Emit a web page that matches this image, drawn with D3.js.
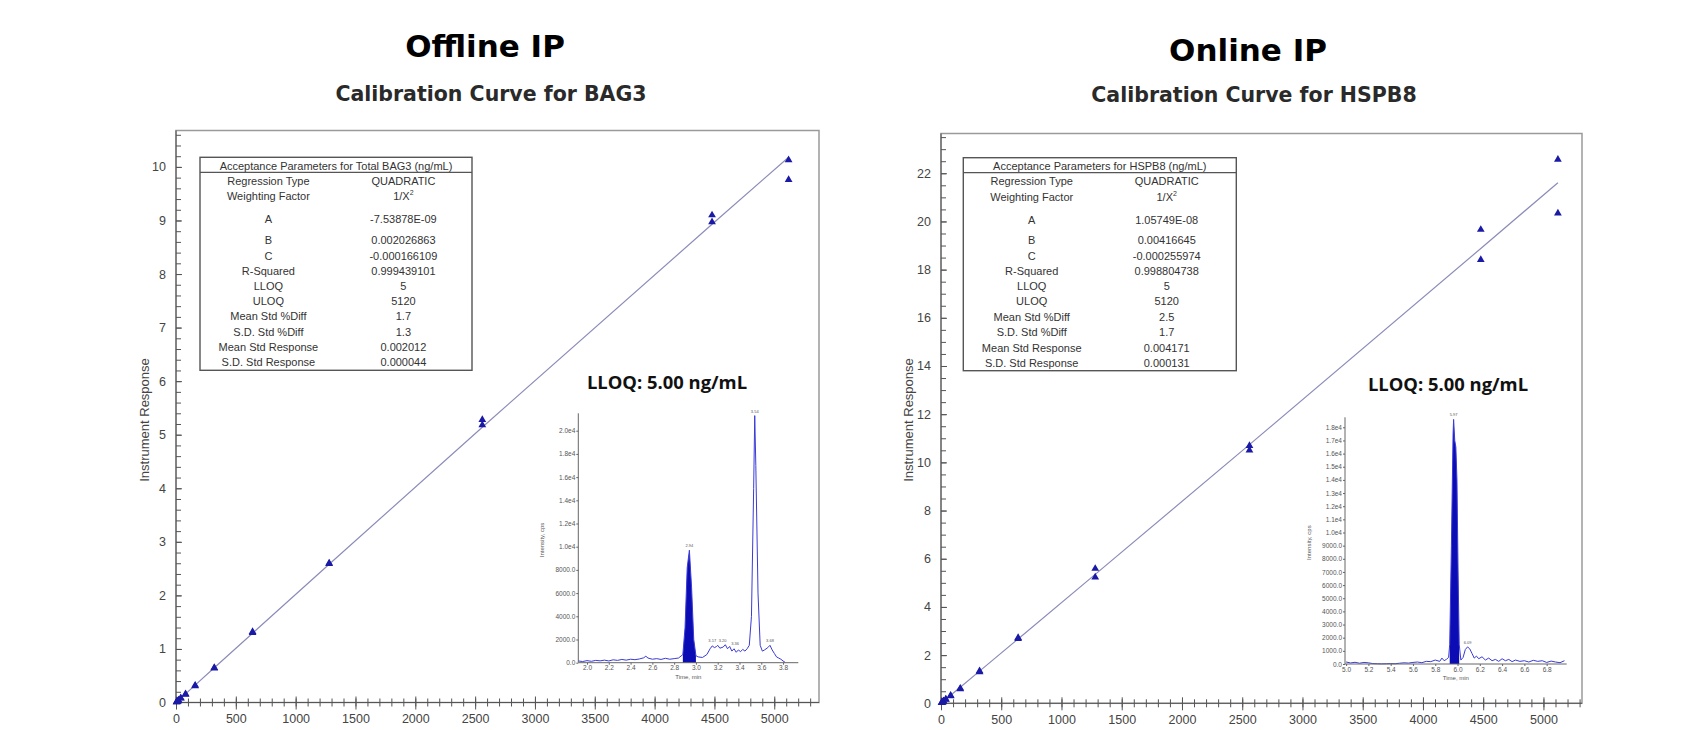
<!DOCTYPE html>
<html>
<head>
<meta charset="utf-8">
<script src="https://cdn.jsdelivr.net/npm/d3@7"></script>
<style>
  body { margin: 0; background: #fff; }
  svg { display: block; font-family: "Liberation Sans", Arial, sans-serif; }
</style>
</head>
<body>
<svg id="chart" width="1690" height="730"></svg>
<script>
// ---- data ----
const concLevels = [5, 10, 20, 40, 80, 160, 320, 640, 1280, 2560, 4480, 5120];

const bag3RespA = [0.010, 0.020, 0.040, 0.080, 0.15, 0.31, 0.64, 1.32, 2.59, 5.28, 9.10, 10.13];
const bag3RespB = [0.011, 0.021, 0.041, 0.082, 0.16, 0.32, 0.65, 1.30, 2.60, 5.18, 8.97, 9.76];

const hspb8RespA = [0.021, 0.042, 0.085, 0.17, 0.30, 0.59, 1.30, 2.68, 5.59, 10.69, 19.66, 22.57];
const hspb8RespB = [0.020, 0.041, 0.083, 0.16, 0.32, 0.62, 1.34, 2.72, 5.23, 10.50, 18.41, 20.34];

// quadratic fit y = A x^2 + B x + C, as printed in the tables
const bag3Fit = [-7.53878e-9, 0.002026863, -0.000166109];
const hspb8Fit = [1.05749e-8, 0.00416645, -0.000255974];

const paramLabels = ["Regression Type", "Weighting Factor", "A", "B", "C", "R-Squared", "LLOQ", "ULOQ",
  "Mean Std %Diff", "S.D. Std %Diff", "Mean Std Response", "S.D. Std Response"];
const bag3Params = ["QUADRATIC", "1/X2", "-7.53878E-09", "0.002026863", "-0.000166109", "0.999439101", "5", "5120",
  "1.7", "1.3", "0.002012", "0.000044"];
const hspb8Params = ["QUADRATIC", "1/X2", "1.05749E-08", "0.00416645", "-0.000255974", "0.998804738", "5", "5120",
  "2.5", "1.7", "0.004171", "0.000131"];

const calXTicks = d3.range(0, 5001, 500);
const calXMinor = d3.range(0, 5301, 100);
const bag3YTicks = d3.range(0, 11, 1);
const bag3YMinor = d3.range(0, 10.61, 0.2);
const hspb8YTicks = d3.range(0, 23, 2);
const hspb8YMinor = d3.range(0, 23.6, 0.5);

// chromatogram at LLOQ, BAG3 (time min, intensity cps)
const bag3ChromTime = [1.92, 1.96, 2.00, 2.04, 2.08, 2.12, 2.16, 2.20, 2.24, 2.28, 2.32, 2.36, 2.40, 2.44, 2.48,
  2.52, 2.54, 2.56, 2.60, 2.64, 2.68, 2.72, 2.76, 2.80, 2.84, 2.88, 2.90, 2.92, 2.94, 2.96, 2.98, 3.00, 3.02,
  3.06, 3.10, 3.13, 3.15, 3.17, 3.19, 3.20, 3.22, 3.25, 3.27, 3.29, 3.31, 3.33, 3.35, 3.37, 3.39, 3.41, 3.43,
  3.45, 3.47, 3.49, 3.51, 3.53, 3.54, 3.55, 3.57, 3.59, 3.61, 3.63, 3.66, 3.68, 3.70, 3.72, 3.74, 3.76, 3.78,
  3.80, 3.82];
const bag3ChromInt = [150, 100, 180, 120, 200, 160, 220, 150, 250, 200, 280, 220, 300, 260, 320,
  420, 560, 400, 300, 350, 280, 380, 300, 350, 400, 700, 3000, 8200, 9700, 6500, 2000, 600, 500,
  450, 700, 1200, 1450, 1300, 1400, 1500, 1250, 1350, 1550, 1200, 1400, 1000, 1200, 900, 1100, 950, 1150,
  1000, 1200, 1500, 4000, 15000, 21300, 17000, 6000, 1500, 1000, 1100, 1300, 1500, 1100, 800, 500, 400, 300,
  150, 20];
const bag3PeakLabels = ["2.94", "3.17", "3.20", "3.36", "3.54", "3.68"];
const bag3PeakTimes = [2.94, 3.15, 3.245, 3.36, 3.54, 3.68];
const bag3PeakInts = [9700, 1500, 1550, 1300, 21300, 1500];
const bag3YTicksInset = d3.range(0, 20001, 2000);
const bag3XTicksInset = [2.0, 2.2, 2.4, 2.6, 2.8, 3.0, 3.2, 3.4, 3.6, 3.8];

// chromatogram at LLOQ, HSPB8
const hspb8ChromTime = [5.00, 5.04, 5.08, 5.12, 5.16, 5.20, 5.24, 5.28, 5.32, 5.36, 5.40, 5.44, 5.48, 5.52,
  5.56, 5.60, 5.64, 5.68, 5.72, 5.76, 5.80, 5.84, 5.86, 5.88, 5.90, 5.92, 5.93, 5.945, 5.96, 5.965, 5.975,
  5.985, 5.995, 6.005, 6.015, 6.03, 6.05, 6.07, 6.09, 6.11, 6.13, 6.15, 6.17, 6.19, 6.22, 6.25, 6.28, 6.31,
  6.34, 6.37, 6.40, 6.43, 6.46, 6.49, 6.52, 6.56, 6.60, 6.64, 6.68, 6.72, 6.76, 6.80, 6.84, 6.88, 6.92, 6.96];
const hspb8ChromInt = [150, 80, 130, 60, 120, 90, 30, 20, 10, 20, 30, 20, 60, 90,
  70, 120, 150, 100, 200, 180, 300, 200, 450, 250, 350, 500, 1500, 9000, 17500, 18600, 17000,
  16500, 14000, 7000, 1500, 300, 500, 1100, 1300, 1150, 800, 450, 600, 400, 550, 300, 450, 250,
  350, 200, 400, 250, 350, 180, 300, 200, 250, 150, 280, 200, 250, 120, 220, 150, 100, 250];
const hspb8PeakLabels = ["5.97", "6.09"];
const hspb8PeakTimes = [5.965, 6.09];
const hspb8PeakInts = [18600, 1300];
const hspb8YTicksInset = d3.range(0, 18001, 1000);
const hspb8XTicksInset = [5.0, 5.2, 5.4, 5.6, 5.8, 6.0, 6.2, 6.4, 6.6, 6.8];

// ---- drawing ----
const svg = d3.select("#chart");
const rowOffsets = [23.7, 39, 62, 82.3, 98.3, 113.7, 128.3, 143.7, 159, 174.3, 190, 205];

function fitValue(c, x) { return c[0] * x * x + c[1] * x + c[2]; }

function drawCalibration(p) {
  const x = d3.scaleLinear().domain([0, p.xMax]).range([p.left, p.right]);
  const y = d3.scaleLinear().domain([0, p.yMax]).range([p.bottom, p.top]);
  const g = svg.append("g");

  // frame
  g.append("rect")
    .attr("x", p.left).attr("y", p.top)
    .attr("width", p.right - p.left).attr("height", p.bottom - p.top)
    .attr("fill", "none").attr("stroke", "#9a9a9a").attr("stroke-width", 1.5);

  // minor ticks
  const xMinor = g.append("g").attr("transform", "translate(0," + p.bottom + ")")
    .call(d3.axisBottom(x).tickValues(calXMinor).tickFormat("").tickSize(4));
  xMinor.selectAll("line").attr("y1", -4);
  const yMinor = g.append("g").attr("transform", "translate(" + p.left + ",0)")
    .call(d3.axisRight(y).tickValues(p.yMinor).tickFormat("").tickSize(5));
  [xMinor, yMinor].forEach(a => { a.select(".domain").remove(); a.selectAll("line").attr("stroke", "#555"); });

  // major ticks
  const xAx = g.append("g").attr("transform", "translate(0," + p.bottom + ")")
    .call(d3.axisBottom(x).tickValues(calXTicks).tickFormat(d3.format("d"))
      .tickSize(7).tickSizeOuter(0).tickPadding(5));
  xAx.selectAll(".tick line").attr("y1", -6);
  xAx.select(".domain").attr("d", "M" + p.left + ",0H" + p.right);
  const yAx = g.append("g").attr("transform", "translate(" + p.left + ",0)")
    .call(d3.axisLeft(y).tickValues(p.yTicks).tickSize(7).tickSizeOuter(0).tickPadding(3));
  yAx.selectAll(".tick line").attr("x2", 6);
  yAx.select(".domain").attr("d", "M0," + p.bottom + "V" + p.top);
  [xAx, yAx].forEach(a => {
    a.selectAll("line, path").attr("stroke", "#555");
    a.selectAll("text").attr("fill", "#444").attr("font-size", 12.5);
  });

  g.append("text")
    .attr("transform", "translate(" + p.yLabelX + ",420) rotate(-90)")
    .attr("text-anchor", "middle").attr("dominant-baseline", "central")
    .attr("font-size", 13).attr("fill", "#444").text("Instrument Response");

  // regression line
  const linePts = [0].concat(concLevels);
  g.append("path")
    .datum(linePts)
    .attr("fill", "none").attr("stroke", "#8c8cba").attr("stroke-width", 1.2)
    .attr("d", d3.line().x(d => x(d)).y(d => y(fitValue(p.fit, d))));

  // replicate markers
  const pts = concLevels.map((c, i) => ({ c, v: p.respA[i] }))
    .concat(concLevels.map((c, i) => ({ c, v: p.respB[i] })));
  g.append("g").selectAll("path").data(pts).enter().append("path")
    .attr("transform", d => "translate(" + x(d.c) + "," + y(d.v) + ")")
    .attr("d", d3.symbol().type(d3.symbolTriangle).size(26))
    .attr("fill", "#1a1aa6");

  // parameter table
  const t = g.append("g").attr("transform", "translate(" + p.tabX + "," + p.tabY + ")");
  t.append("rect").attr("width", p.tabW).attr("height", 213)
    .attr("fill", "#fff").attr("stroke", "#555").attr("stroke-width", 1.4);
  t.append("line").attr("x1", 0).attr("x2", p.tabW).attr("y1", 15).attr("y2", 15)
    .attr("stroke", "#555").attr("stroke-width", 1.2);
  t.append("text").attr("x", p.tabW / 2).attr("y", 8.3)
    .attr("text-anchor", "middle").attr("dominant-baseline", "central")
    .attr("font-size", 11).attr("fill", "#333").text(p.tabTitle);
  paramLabels.forEach((lab, i) => {
    t.append("text").attr("x", 68.4).attr("y", rowOffsets[i])
      .attr("text-anchor", "middle").attr("dominant-baseline", "central")
      .attr("font-size", 11).attr("fill", "#333").text(lab);
    const v = t.append("text").attr("x", 203.4).attr("y", rowOffsets[i])
      .attr("text-anchor", "middle").attr("dominant-baseline", "central")
      .attr("font-size", 11).attr("fill", "#333");
    if (p.params[i] === "1/X2") {
      v.append("tspan").text("1/X");
      v.append("tspan").attr("font-size", 7).attr("dy", -4).text("2");
    } else {
      v.text(p.params[i]);
    }
  });

  // titles
  svg.append("text").attr("x", p.titleX).attr("y", p.titleY)
    .attr("text-anchor", "middle").attr("font-family", "'DejaVu Sans', sans-serif")
    .attr("font-weight", 700).attr("font-size", 31).attr("fill", "#000").text(p.title);
  svg.append("text").attr("x", p.subX).attr("y", p.subY)
    .attr("text-anchor", "middle").attr("font-family", "'DejaVu Sans', sans-serif").attr("font-weight", 700)
    .attr("font-size", 20.5).attr("fill", "#2a2a2a").text(p.subtitle);
  svg.append("text").attr("x", p.lloqX).attr("y", p.lloqY)
    .attr("text-anchor", "middle").attr("font-family", "'Open Sans', sans-serif")
    .attr("font-weight", 700).attr("font-size", 18.4).attr("fill", "#111").text("LLOQ: 5.00 ng/mL");
}

function insetFormat(v) {
  return v >= 10000 ? (v / 10000).toFixed(1) + "e4" : v.toFixed(1);
}

function drawInset(c) {
  const x = d3.scaleLinear().domain(c.xDom).range([c.left, c.right]);
  const y = d3.scaleLinear().domain([0, c.yTop]).range([c.bottom, c.top]);
  const g = svg.append("g");
  const data = c.time.map((tm, i) => ({ t: tm, v: c.inten[i] }));

  const peak = data.filter(d => d.t >= c.fill[0] && d.t <= c.fill[1]);
  g.append("path").datum(peak)
    .attr("fill", "#0c0cb4")
    .attr("d", d3.area().x(d => x(d.t)).y0(y(0)).y1(d => y(d.v)));
  g.append("path").datum(data)
    .attr("fill", "none").attr("stroke", "#3b3bd6").attr("stroke-width", 1)
    .attr("d", d3.line().x(d => x(d.t)).y(d => y(d.v)));

  const yAx = g.append("g").attr("transform", "translate(" + c.left + ",0)")
    .call(d3.axisLeft(y).tickValues(c.yTicks).tickFormat(insetFormat).tickSize(2).tickSizeOuter(0).tickPadding(1));
  yAx.select(".domain").attr("d", "M0," + c.bottom + "V" + c.top);
  const xAx = g.append("g").attr("transform", "translate(0," + c.bottom + ")")
    .call(d3.axisBottom(x).tickValues(c.xTicks).tickFormat(d3.format(".1f")).tickSize(2).tickSizeOuter(0).tickPadding(1));
  xAx.select(".domain").attr("d", "M" + c.left + ",0H" + c.right);
  [xAx, yAx].forEach(a => {
    a.selectAll("line, path").attr("stroke", "#666");
    a.selectAll("text").attr("fill", "#555").attr("font-size", 6.5);
  });

  g.selectAll(".plab").data(c.peakL).enter().append("text")
    .attr("x", (d, i) => x(c.peakT[i])).attr("y", (d, i) => y(c.peakV[i]) - 3)
    .attr("text-anchor", "middle").attr("font-size", 4).attr("fill", "#555")
    .text(d => d);

  g.append("text")
    .attr("transform", "translate(" + c.yTitleX + "," + ((c.top + c.bottom) / 2 + 2) + ") rotate(-90)")
    .attr("text-anchor", "middle").attr("dominant-baseline", "central")
    .attr("font-size", 6).attr("fill", "#555").text("Intensity, cps");
  g.append("text").attr("x", (c.left + c.right) / 2).attr("y", c.bottom + 16)
    .attr("text-anchor", "middle").attr("font-size", 6).attr("fill", "#555").text("Time, min");
}

drawCalibration({
  left: 176, right: 819, top: 130.5, bottom: 702.5, xMax: 5374, yMax: 10.68,
  yTicks: bag3YTicks, yMinor: bag3YMinor, yLabelX: 144,
  fit: bag3Fit, respA: bag3RespA, respB: bag3RespB,
  tabX: 200, tabY: 157.3, tabW: 272, tabTitle: "Acceptance Parameters for Total BAG3 (ng/mL)", params: bag3Params,
  title: "Offline IP", titleX: 485, titleY: 57, subtitle: "Calibration Curve for BAG3", subX: 491, subY: 101,
  lloqX: 667, lloqY: 389
});
drawCalibration({
  left: 941, right: 1582, top: 133.5, bottom: 703.3, xMax: 5320, yMax: 23.65,
  yTicks: hspb8YTicks, yMinor: hspb8YMinor, yLabelX: 908,
  fit: hspb8Fit, respA: hspb8RespA, respB: hspb8RespB,
  tabX: 963.3, tabY: 157.7, tabW: 273, tabTitle: "Acceptance Parameters for HSPB8 (ng/mL)", params: hspb8Params,
  title: "Online IP", titleX: 1248, titleY: 61, subtitle: "Calibration Curve for HSPB8", subX: 1254, subY: 102,
  lloqX: 1448, lloqY: 391
});

drawInset({
  left: 578.3, right: 798.3, top: 413.3, bottom: 662.7, xDom: [1.92, 3.94], yTop: 21500,
  time: bag3ChromTime, inten: bag3ChromInt, fill: [2.88, 3.00],
  yTicks: bag3YTicksInset, xTicks: bag3XTicksInset,
  peakL: bag3PeakLabels, peakT: bag3PeakTimes, peakV: bag3PeakInts, yTitleX: 541.7
});
drawInset({
  left: 1345, right: 1566.7, top: 417.3, bottom: 664, xDom: [4.99, 6.98], yTop: 18760,
  time: hspb8ChromTime, inten: hspb8ChromInt, fill: [5.93, 6.015],
  yTicks: hspb8YTicksInset, xTicks: hspb8XTicksInset,
  peakL: hspb8PeakLabels, peakT: hspb8PeakTimes, peakV: hspb8PeakInts, yTitleX: 1309
});
</script>
</body>
</html>
